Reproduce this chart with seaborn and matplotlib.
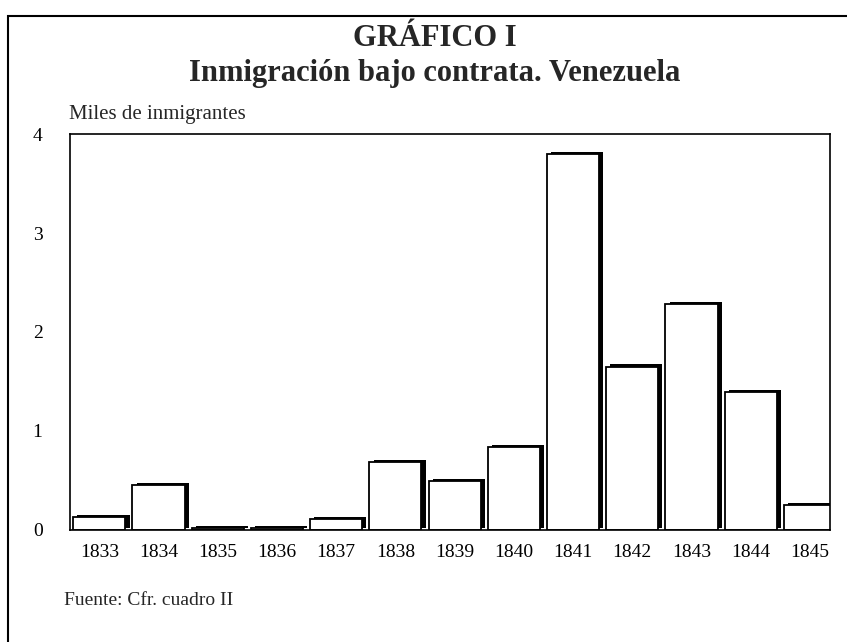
import numpy as np
import pandas as pd
import matplotlib
matplotlib.use("Agg")
import matplotlib.pyplot as plt
import matplotlib.patheffects as pe
from matplotlib.patches import Rectangle
import seaborn as sns

# datos (miles de inmigrantes)
years = ["1833", "1834", "1835", "1836", "1837", "1838", "1839",
         "1840", "1841", "1842", "1843", "1844", "1845"]
immigrants = [0.13, 0.45, 0.02, 0.02, 0.11, 0.68, 0.49,
              0.84, 3.80, 1.65, 2.28, 1.39, 0.25]
yticks = [0, 1, 2, 3, 4]

df = pd.DataFrame({"year": years, "value": immigrants})

sns.set_style("white")
plt.rcParams["font.family"] = ["Liberation Serif", "DejaVu Serif"]

fig = plt.figure(figsize=(8.47, 6.42), dpi=100)
ax = fig.add_axes([0.083, 0.175, 0.897, 0.616])

sns.barplot(data=df, x="year", y="value", color="white", edgecolor="black",
            linewidth=1.3, width=0.88, saturation=1, ax=ax)

# efecto 3D de las barras
for bar in ax.patches:
    bar.set_path_effects([
        pe.SimplePatchShadow(offset=(3, 1.5), shadow_rgbFace="black", alpha=1),
        pe.Normal(),
    ])

ax.set_ylim(0, 4)
ax.set_xlim(-0.49, 12.34)
ax.set_yticks(yticks)
ax.set_yticklabels([str(t) for t in yticks])
ax.set_xlabel("")
ax.set_ylabel("")
ax.tick_params(axis="both", direction="out", length=8, width=1, colors="black",
               labelsize=14)
ax.tick_params(axis="y", pad=12)
ax.tick_params(axis="x", pad=2)
for s in ax.spines.values():
    s.set_visible(True)
    s.set_color("black")
    s.set_linewidth(1.2)

fig.text(0.513, 0.94, "GRÁFICO I", ha="center", va="center",
         fontsize=22, fontweight="bold")
fig.text(0.513, 0.886, "Inmigración bajo contrata. Venezuela", ha="center",
         va="center", fontsize=22, fontweight="bold")
fig.text(0.082, 0.821, "Miles de inmigrantes", ha="left", va="center", fontsize=15)
fig.text(0.076, 0.064, "Fuente: Cfr. cuadro II", ha="left", va="center", fontsize=14)

# marco exterior
fig.patches.append(Rectangle((0.01, -0.01), 1.0, 0.985, transform=fig.transFigure,
                             fill=False, edgecolor="black", linewidth=1.5))

fig.savefig("out.png", dpi=100)
